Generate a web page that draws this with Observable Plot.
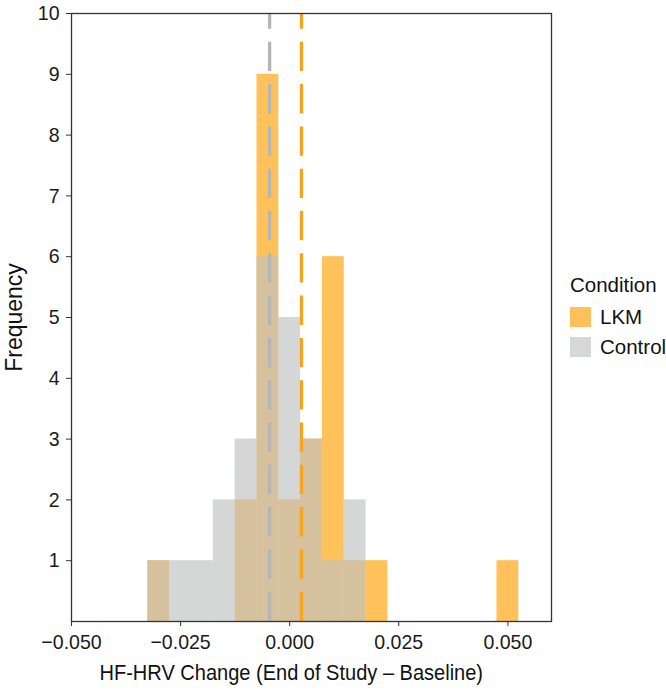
<!DOCTYPE html>
<html>
<head>
<meta charset="utf-8">
<script src="https://cdn.jsdelivr.net/npm/d3@7"></script>
<script src="https://cdn.jsdelivr.net/npm/@observablehq/plot@0.6"></script>
<style>
  html, body { margin: 0; padding: 0; background: white; }
  #wrap { position: relative; width: 666px; height: 695px; font-family: "Liberation Sans", Arial, sans-serif; }
  #legend { position: absolute; left: 570px; top: 272px; color: #111; white-space: nowrap; }
  #legend .title { font-size: 20.5px; line-height: 26px; margin-bottom: 4px; }
  #legend .row { display: flex; align-items: center; height: 30px; font-size: 20.5px; }
  #legend .sw { width: 21px; height: 20px; margin-right: 9px; flex: none; }
</style>
</head>
<body>
<div id="wrap"><div id="chart"></div><div id="legend"></div></div>
<script>
// ---- data ----
const binCenters = [-0.030, -0.025, -0.020, -0.015, -0.010, -0.005, 0.000, 0.005, 0.010, 0.015, 0.020, 0.025, 0.030, 0.035, 0.040, 0.045, 0.050];
const lkmCounts     = [1, 0, 0, 0, 2, 9, 2, 3, 6, 1, 1, 0, 0, 0, 0, 0, 1];
const controlCounts = [1, 1, 1, 2, 3, 6, 5, 3, 1, 2, 0, 0, 0, 0, 0, 0, 0];
const conditions = ["LKM", "Control"];
const conditionMeans = [0.0027, -0.0046];
const binWidth = 0.005;
const xTicks = [-0.050, -0.025, 0.000, 0.025, 0.050];
const yTicks = [1, 2, 3, 4, 5, 6, 7, 8, 9, 10];
const xTitle = "HF-HRV Change (End of Study – Baseline)";
const yTitle = "Frequency";
const legendTitle = "Condition";

// ---- styles ----
const barFill = {LKM: "#FFA000", Control: "#BFC2C2"};
const barOpacity = 0.65;
const swatchColor = {LKM: "#FEC159", Control: "#D6D8D8"};
const meanStroke = {LKM: "#F6A31E", Control: "#B5B5B5"};
const font = '"Liberation Sans", Arial, sans-serif';

function table(counts, cond) {
  return binCenters.map((c, i) => ({condition: cond, x1: c - binWidth / 2, x2: c + binWidth / 2, count: counts[i]}))
    .filter(d => d.count > 0);
}
const lkmTable = table(lkmCounts, "LKM");
const controlTable = table(controlCounts, "Control");
const means = conditions.map((c, i) => ({condition: c, mean: conditionMeans[i]}));

const chart = Plot.plot({
  width: 666,
  height: 695,
  marginLeft: 71,
  marginRight: 115,
  marginTop: 13,
  marginBottom: 74,
  style: {fontFamily: font, fontSize: "21px", color: "#1a1a1a", background: "white"},
  x: {domain: [-0.05, 0.06], label: null},
  y: {domain: [0, 10], label: null},
  marks: [
    Plot.rectY(lkmTable, {x1: "x1", x2: "x2", y: "count", fill: barFill.LKM, fillOpacity: barOpacity}),
    Plot.rectY(controlTable, {x1: "x1", x2: "x2", y: "count", fill: barFill.Control, fillOpacity: barOpacity}),
    Plot.ruleX(means, {x: "mean", y1: 0, y2: 10, stroke: d => meanStroke[d.condition], strokeWidth: 3.3, strokeDasharray: "29.3,13"}),
    Plot.frame({stroke: "#333", strokeWidth: 1.3}),
    Plot.axisX({ticks: xTicks, tickFormat: d3.format(".3f"), tickSize: 5, tickPadding: 8, fontSize: 21, stroke: "#333", fill: "#1a1a1a", label: null, className: "squeeze-ticks"}),
    Plot.axisY({ticks: yTicks, tickSize: 5, tickPadding: 7, fontSize: 21, stroke: "#333", fill: "#1a1a1a", label: null, className: "squeeze-ticks"}),
    Plot.text([xTitle], {frameAnchor: "bottom-left", textAnchor: "start", dx: 28, dy: 58, fontSize: 22, fill: "#111", className: "squeeze-title"}),
    Plot.text([yTitle], {frameAnchor: "left", textAnchor: "middle", rotate: -90, dx: -57, fontSize: 23, fill: "#111"})
  ]
});
document.getElementById("chart").appendChild(chart);

// narrow the glyphs a little, like the condensed face of the reference
function squeeze(selector, k) {
  chart.querySelectorAll(selector + " text").forEach(t => {
    const w = t.getComputedTextLength();
    if (w > 0) {
      t.setAttribute("textLength", (w * k).toFixed(2));
      t.setAttribute("lengthAdjust", "spacingAndGlyphs");
    }
  });
}
squeeze(".squeeze-ticks", 0.93);
squeeze(".squeeze-title", 0.91);

const legend = document.getElementById("legend");
legend.innerHTML = `<div class="title">${legendTitle}</div>` +
  conditions.map(c => `<div class="row"><div class="sw" style="background:${swatchColor[c]}"></div><span>${c}</span></div>`).join("");
</script>
</body>
</html>
